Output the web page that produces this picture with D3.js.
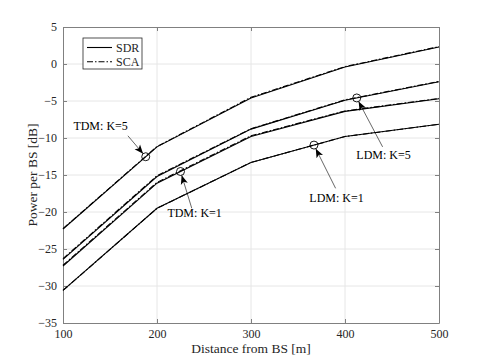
<!DOCTYPE html>
<html>
<head>
<meta charset="utf-8">
<script src="https://cdn.jsdelivr.net/npm/d3@7"></script>
<style>
  body { margin: 0; background: #fff; }
</style>
</head>
<body>
<div id="chart"></div>
<script>
// Distance samples [m]
const distances = [100, 200, 300, 400, 500];

// Power per BS [dB] (SDR solid / SCA dash-dot)
const tdmK5Sdr = [-22.3, -11.2, -4.6, -0.4, 2.3];
const tdmK5Sca = [-22.25, -11.15, -4.5, -0.35, 2.35];
const ldmK5Sdr = [-26.4, -15.2, -8.8, -4.9, -2.4];
const ldmK5Sca = [-26.3, -15.1, -8.75, -4.85, -2.35];
const tdmK1Sdr = [-27.3, -16.1, -9.8, -6.4, -4.7];
const tdmK1Sca = [-27.2, -16.0, -9.7, -6.35, -4.65];
const ldmK1Sdr = [-30.6, -19.5, -13.3, -9.8, -8.15];
const ldmK1Sca = [-30.6, -19.5, -13.3, -9.8, -8.15];

const xTicks = [100, 200, 300, 400, 500];
const yTicks = [5, 0, -5, -10, -15, -20, -25, -30, -35];

// annotations: marker on a series, label centre and arrow tail (data units)
const annotations = [
  { text: 'TDM: K=5', series: tdmK5Sdr, at: 188,   label: [140, -8.4],  tail: [169, -9.7] },
  { text: 'TDM: K=1', series: tdmK1Sdr, at: 225,   label: [240, -20.1], tail: [237, -19.5] },
  { text: 'LDM: K=5', series: ldmK5Sdr, at: 412.5, label: [441, -12.3], tail: [440, -11.2] },
  { text: 'LDM: K=1', series: ldmK1Sdr, at: 367,   label: [391, -18.1], tail: [390, -16.8] }
];

const W = 485, H = 363;
const margin = { top: 27, right: 46, bottom: 40, left: 63 };
const iw = W - margin.left - margin.right;
const ih = H - margin.top - margin.bottom;
const FONT = 'Liberation Serif';

const svg = d3.select('#chart').append('svg')
  .attr('width', W).attr('height', H)
  .attr('font-family', FONT);

const x = d3.scaleLinear().domain([100, 500]).range([0, iw]);
const y = d3.scaleLinear().domain([-35, 5]).range([ih, 0]);

const g = svg.append('g').attr('transform', `translate(${margin.left},${margin.top})`);

// grid
g.append('g').selectAll('line').data(xTicks.slice(1, -1)).join('line')
  .attr('x1', d => x(d)).attr('x2', d => x(d)).attr('y1', 0).attr('y2', ih)
  .attr('stroke', '#e6e6e6').attr('stroke-width', 1);
g.append('g').selectAll('line').data(yTicks.slice(1, -1)).join('line')
  .attr('y1', d => y(d)).attr('y2', d => y(d)).attr('x1', 0).attr('x2', iw)
  .attr('stroke', '#e6e6e6').attr('stroke-width', 1);

// axes, ticks inside on all four sides
const axisColor = '#808080';
function styleAxis(sel) {
  sel.attr('font-family', FONT).attr('font-size', 12);
  sel.select('.domain').attr('stroke', axisColor);
  sel.selectAll('.tick line').attr('stroke', axisColor);
  sel.selectAll('.tick text').attr('fill', '#262626').attr('font-family', FONT);
}
g.append('g').attr('transform', `translate(0,${ih})`)
  .call(d3.axisBottom(x).tickValues(xTicks).tickSize(-4).tickPadding(6).tickSizeOuter(0))
  .call(styleAxis);
g.append('g')
  .call(d3.axisTop(x).tickValues(xTicks).tickSize(-4).tickFormat('').tickSizeOuter(0))
  .call(styleAxis);
g.append('g')
  .call(d3.axisLeft(y).tickValues(yTicks).tickSize(-4).tickPadding(6).tickSizeOuter(0))
  .call(styleAxis);
g.append('g').attr('transform', `translate(${iw},0)`)
  .call(d3.axisRight(y).tickValues(yTicks).tickSize(-4).tickFormat('').tickSizeOuter(0))
  .call(styleAxis);

// axis titles
svg.append('text')
  .attr('x', margin.left + iw / 2).attr('y', 353)
  .attr('text-anchor', 'middle').attr('font-size', 13.5).attr('fill', '#262626')
  .text('Distance from BS [m]');
svg.append('text')
  .attr('transform', `translate(37,${margin.top + ih / 2}) rotate(-90)`)
  .attr('text-anchor', 'middle').attr('font-size', 13.5).attr('fill', '#262626')
  .text('Power per BS [dB]');

// curves
const line = d3.line().x((d, i) => x(distances[i])).y(d => y(d));
const curves = [
  { v: tdmK5Sdr, dash: null }, { v: tdmK5Sca, dash: '6,2,1.5,2' },
  { v: ldmK5Sdr, dash: null }, { v: ldmK5Sca, dash: '6,2,1.5,2' },
  { v: tdmK1Sdr, dash: null }, { v: tdmK1Sca, dash: '6,2,1.5,2' },
  { v: ldmK1Sdr, dash: null }, { v: ldmK1Sca, dash: '6,2,1.5,2' }
];
g.append('g').selectAll('path').data(curves).join('path')
  .attr('d', d => line(d.v))
  .attr('fill', 'none').attr('stroke', '#000').attr('stroke-width', 1.1)
  .attr('stroke-dasharray', d => d.dash);

// annotations
svg.append('defs').append('marker')
  .attr('id', 'head').attr('viewBox', '0 0 10 10').attr('refX', 10).attr('refY', 5)
  .attr('markerWidth', 9).attr('markerHeight', 9).attr('markerUnits', 'userSpaceOnUse')
  .attr('orient', 'auto')
  .append('path').attr('d', 'M0,1 L10,5 L0,9 L2.5,5 Z').attr('fill', '#000');

const interp = (series, v) => d3.scaleLinear().domain(distances).range(series)(v);
const r = 4;
const ann = g.append('g');
annotations.forEach(a => {
  const cx = x(a.at), cy = y(interp(a.series, a.at));
  const tx = x(a.tail[0]), ty = y(a.tail[1]);
  const len = Math.hypot(cx - tx, cy - ty);
  const ex = cx - (cx - tx) / len * r, ey = cy - (cy - ty) / len * r;
  ann.append('circle').attr('cx', cx).attr('cy', cy).attr('r', r)
    .attr('fill', 'none').attr('stroke', '#000').attr('stroke-width', 0.9);
  ann.append('line').attr('x1', tx).attr('y1', ty).attr('x2', ex).attr('y2', ey)
    .attr('stroke', '#000').attr('stroke-width', 0.6).attr('marker-end', 'url(#head)');
  ann.append('text').attr('x', x(a.label[0])).attr('y', y(a.label[1]))
    .attr('text-anchor', 'middle').attr('dy', '0.35em').attr('font-size', 12)
    .attr('fill', '#000').text(a.text);
});

// legend
const legend = svg.append('g').attr('transform', 'translate(83,38)');
legend.append('rect').attr('width', 59).attr('height', 31)
  .attr('fill', '#fff').attr('stroke', '#262626').attr('stroke-width', 0.8);
const legendItems = [{ name: 'SDR', dash: null }, { name: 'SCA', dash: '6,2,1.5,2' }];
legendItems.forEach((d, i) => {
  const ly = 9.5 + i * 14.3;
  legend.append('line').attr('x1', 4).attr('x2', 29).attr('y1', ly).attr('y2', ly)
    .attr('stroke', '#000').attr('stroke-width', 1.1).attr('stroke-dasharray', d.dash);
  legend.append('text').attr('x', 33).attr('y', ly).attr('dy', '0.35em')
    .attr('font-size', 12).attr('fill', '#262626').text(d.name);
});
</script>
</body>
</html>
